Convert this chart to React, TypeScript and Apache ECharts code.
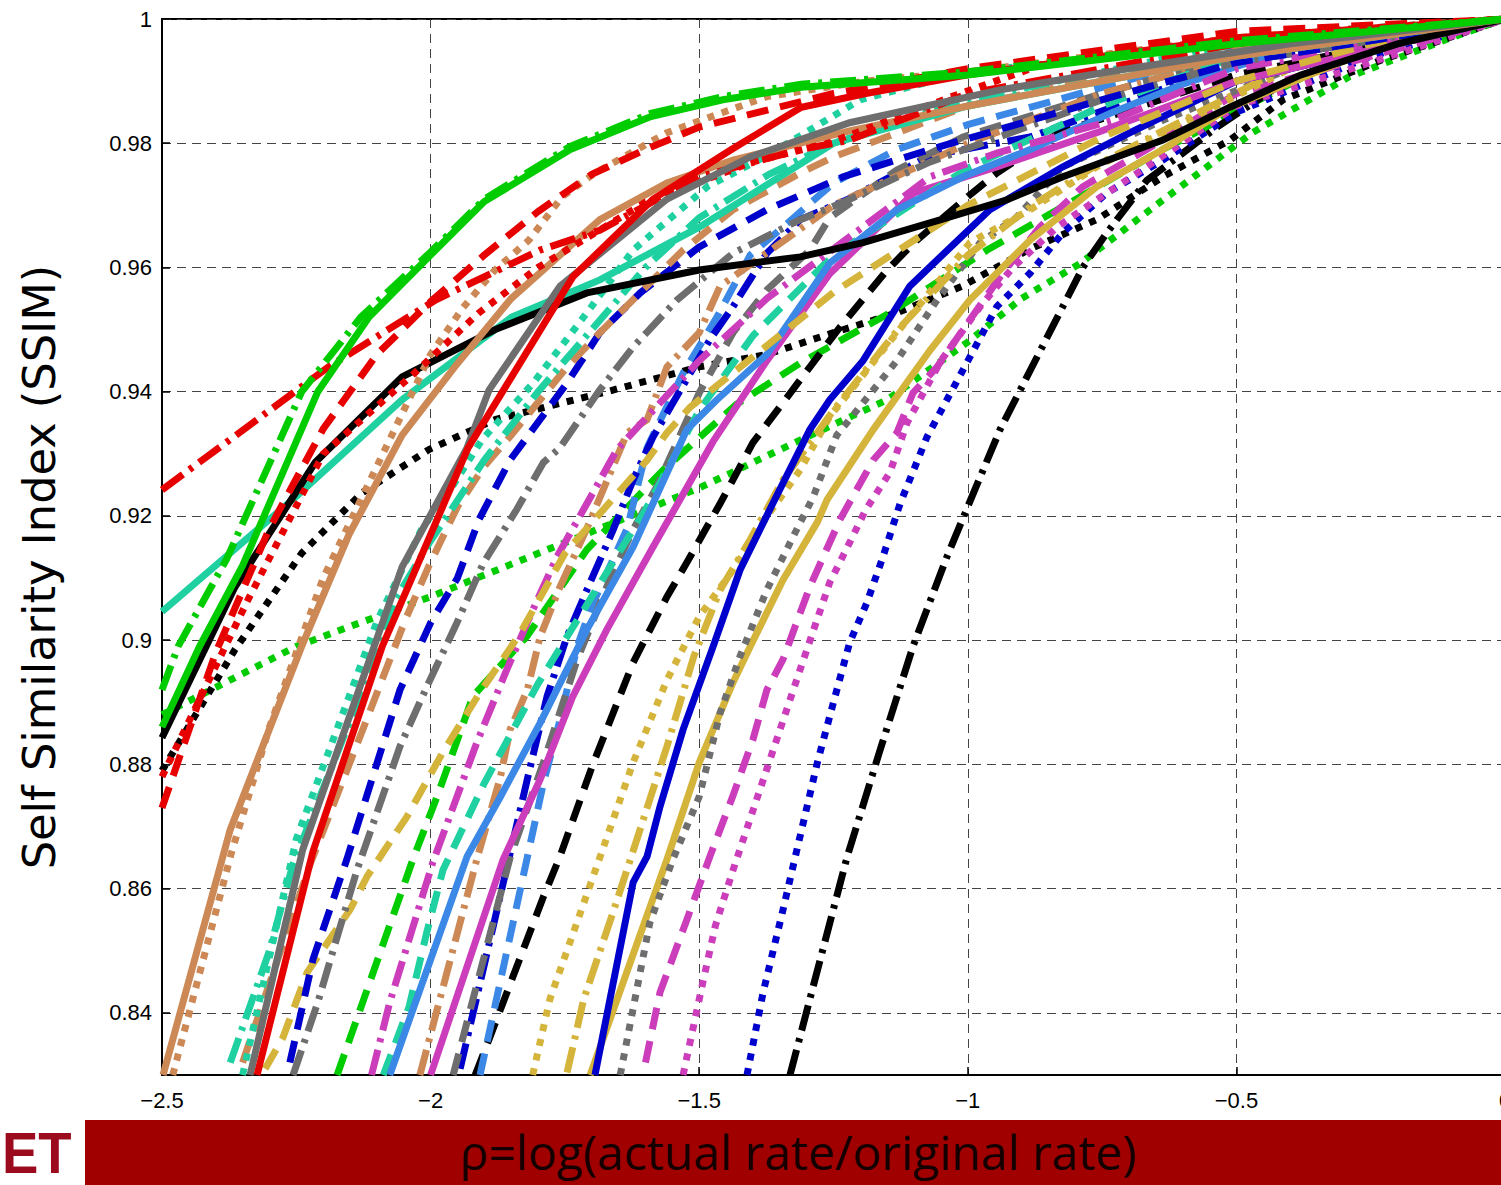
import React, { useEffect, useRef } from 'react';
import * as echarts from 'echarts';

// ---- data (x = rho, y = SSIM) ----
const greenSolid = [[-2.5,0.886],[-2.43,0.899],[-2.35,0.912],[-2.21,0.940],[-2.115,0.952],[-2.0,0.962],[-1.9,0.9706],[-1.74,0.979],[-1.59,0.9843],[-1.456,0.987],[-1.31,0.989],[-1.0,0.991],[-0.5,0.996],[0,1]];
const greenDashDot = [[-2.5,0.892],[-2.47,0.899],[-2.38,0.913],[-2.24,0.940],[-2.13,0.952],[-2.0,0.9625],[-1.9,0.971],[-1.74,0.9795],[-1.59,0.9848],[-1.456,0.9875],[-1.31,0.9895],[-1.0,0.9915],[-0.5,0.9965],[0,1]];
const greenDotted = [[-2.5,0.888],[-2.25,0.899],[-2.0,0.907],[-1.75,0.9157],[-1.5,0.9245],[-1.3,0.9327],[-1.15,0.9387],[-1.0,0.948],[-0.9,0.955],[-0.79,0.9607],[-0.65,0.970],[-0.47,0.9817],[-0.29,0.9907],[-0.1,0.997],[0,1]];
const greenDashed = [[-2.174,0.83],[-2.033,0.8647],[-1.988,0.8748],[-1.921,0.891],[-1.821,0.9006],[-1.709,0.9146],[-1.567,0.9274],[-1.43,0.938],[-1.312,0.9446],[-1.145,0.9527],[-0.964,0.9628],[-0.637,0.979],[-0.3,0.994],[0,1]];

const redSolid = [[-2.323,0.83],[-2.219,0.866],[-2.09,0.899],[-1.93,0.931],[-1.735,0.9585],[-1.586,0.971],[-1.44,0.979],[-1.31,0.9858],[-1.19,0.988],[-1.0,0.991],[-0.5,0.997],[0,1]];
const redDashed = [[-2.5,0.873],[-2.4,0.898],[-2.3,0.918],[-2.2,0.934],[-2.1,0.946],[-2.0,0.9545],[-1.9,0.962],[-1.8,0.969],[-1.7,0.975],[-1.6,0.979],[-1.5,0.9826],[-1.25,0.988],[-1.0,0.992],[-0.5,0.998],[0,1]];
const redDotted = [[-2.5,0.878],[-2.34,0.9065],[-2.2,0.930],[-2.03,0.943],[-1.91,0.9527],[-1.8,0.960],[-1.6,0.9705],[-1.4,0.977],[-1.26,0.980],[-1.03,0.9875],[-0.85,0.993],[-0.66,0.9945],[-0.35,0.998],[0,1]];
const redDashDot = [[-2.5,0.9242],[-2.19,0.944],[-1.99,0.9548],[-1.796,0.9628],[-1.685,0.966],[-1.5,0.9746],[-1.31,0.979],[-1.22,0.9805],[-1.0,0.988],[-0.5,0.996],[0,1]];

const blackSolid = [[-2.5,0.8843],[-2.364,0.9086],[-2.215,0.9286],[-2.053,0.9424],[-1.88,0.950],[-1.709,0.9559],[-1.5,0.9596],[-1.312,0.9617],[-1.195,0.964],[-1.05,0.9677],[-0.927,0.9709],[-0.823,0.9746],[-0.637,0.9805],[-0.512,0.9858],[-0.38,0.991],[-0.2,0.996],[0,1]];
const blackDotted = [[-2.5,0.879],[-2.364,0.8985],[-2.24,0.914],[-2.128,0.9237],[-2.003,0.9307],[-1.88,0.9355],[-1.672,0.940],[-1.5,0.944],[-1.374,0.946],[-1.25,0.9495],[-1.132,0.9527],[-1.01,0.957],[-0.884,0.963],[-0.76,0.9677],[-0.637,0.9746],[-0.512,0.9805],[-0.413,0.987],[-0.23,0.9934],[0,1]];
const blackDashed = [[-1.917,0.83],[-1.89,0.836],[-1.79,0.8587],[-1.76,0.865],[-1.698,0.880],[-1.623,0.8964],[-1.56,0.907],[-1.523,0.9125],[-1.461,0.922],[-1.4,0.9318],[-1.238,0.9504],[-1.15,0.9596],[-1.1,0.964],[-1.0,0.9714],[-0.946,0.9752],[-0.897,0.978],[-0.83,0.9817],[-0.5,0.991],[0,1]];
const blackDashDot = [[-1.331,0.83],[-1.225,0.865],[-1.163,0.8824],[-1.102,0.899],[-1.039,0.9134],[-1.0,0.9215],[-0.94,0.9339],[-0.786,0.960],[-0.741,0.9656],[-0.667,0.974],[-0.536,0.9826],[-0.413,0.9897],[-0.2,0.997],[0,1]];

const tealSolid = [[-2.5,0.9046],[-2.252,0.923],[-2.053,0.9387],[-1.849,0.952],[-1.685,0.958],[-1.5,0.9665],[-1.25,0.980],[-1.0,0.986],[-0.5,0.994],[0,1]];
const tealDotted = [[-2.35,0.83],[-2.25,0.868],[-2.1,0.903],[-2.016,0.918],[-1.96,0.9247],[-1.904,0.9323],[-1.809,0.9414],[-1.709,0.9527],[-1.623,0.9628],[-1.485,0.973],[-1.374,0.978],[-1.2,0.987],[-1.0,0.9915],[-0.66,0.9945],[-0.35,0.998],[0,1]];
const tealDashDot = [[-2.373,0.832],[-2.3,0.85],[-2.256,0.864],[-2.15,0.887],[-2.066,0.9065],[-2.0,0.916],[-1.9,0.929],[-1.8,0.940],[-1.7,0.950],[-1.6,0.960],[-1.5,0.968],[-1.37,0.975],[-1.25,0.980],[-1.0,0.987],[-0.5,0.996],[0,1]];
const tealDashed = [[-2.088,0.83],[-2.04,0.841],[-2.007,0.853],[-1.977,0.863],[-1.9,0.877],[-1.8,0.893],[-1.7,0.907],[-1.6,0.921],[-1.5,0.937],[-1.4,0.949],[-1.25,0.962],[-1.0,0.976],[-0.75,0.986],[-0.5,0.994],[0,1]];

const tanSolid = [[-2.498,0.83],[-2.373,0.8695],[-2.24,0.899],[-2.152,0.917],[-2.053,0.933],[-1.955,0.944],[-1.85,0.955],[-1.685,0.9677],[-1.56,0.9736],[-1.437,0.9773],[-1.22,0.982],[-1.0,0.986],[-0.75,0.990],[-0.5,0.994],[-0.25,0.997],[0,1]];
const tanDotted = [[-2.48,0.83],[-2.37,0.866],[-2.3,0.886],[-2.2,0.910],[-2.1,0.928],[-2.0,0.946],[-1.94,0.9535],[-1.88,0.9596],[-1.817,0.9644],[-1.755,0.9714],[-1.694,0.9752],[-1.56,0.9817],[-1.374,0.9875],[-1.19,0.990],[-1.0,0.9915],[-0.5,0.997],[0,1]];
const tanDashed = [[-2.35,0.832],[-2.224,0.864],[-2.12,0.887],[-2.047,0.9033],[-2.003,0.912],[-1.95,0.9215],[-1.9,0.928],[-1.85,0.933],[-1.746,0.944],[-1.685,0.9495],[-1.623,0.9548],[-1.53,0.9628],[-1.437,0.9693],[-1.312,0.9752],[-1.25,0.9778],[-1.0,0.986],[-0.5,0.995],[0,1]];
const tanDashDot = [[-2.02,0.83],[-1.914,0.8647],[-1.87,0.878],[-1.852,0.8856],[-1.82,0.892],[-1.796,0.9006],[-1.759,0.9086],[-1.709,0.918],[-1.634,0.9334],[-1.597,0.9355],[-1.56,0.944],[-1.5,0.9495],[-1.461,0.957],[-1.25,0.970],[-1.0,0.980],[-0.75,0.988],[-0.5,0.994],[0,1]];

const graySolid = [[-2.336,0.83],[-2.238,0.8663],[-2.053,0.9118],[-1.932,0.931],[-1.891,0.9403],[-1.759,0.957],[-1.56,0.971],[-1.405,0.9778],[-1.22,0.9833],[-0.94,0.9886],[-0.717,0.9918],[-0.4,0.996],[0,1]];
const grayDashDot = [[-2.256,0.83],[-2.21,0.8417],[-2.137,0.863],[-2.057,0.8829],[-2.007,0.8925],[-1.951,0.9028],[-1.902,0.9124],[-1.84,0.921],[-1.79,0.9286],[-1.759,0.931],[-1.685,0.9403],[-1.623,0.9472],[-1.541,0.9548],[-1.437,0.9623],[-1.312,0.9677],[-1.232,0.9705],[-1.07,0.977],[-0.75,0.987],[-0.5,0.993],[0,1]];
const grayDashed = [[-1.958,0.83],[-1.852,0.865],[-1.79,0.8803],[-1.727,0.8969],[-1.672,0.9086],[-1.623,0.9178],[-1.579,0.9247],[-1.5,0.9398],[-1.437,0.9495],[-1.374,0.9564],[-1.294,0.9628],[-1.257,0.968],[-1.132,0.9757],[-1.009,0.981],[-0.75,0.988],[-0.5,0.994],[0,1]];
const grayDotted = [[-1.647,0.83],[-1.592,0.8545],[-1.549,0.8647],[-1.5,0.8748],[-1.461,0.8883],[-1.424,0.8974],[-1.374,0.9081],[-1.325,0.9167],[-1.288,0.923],[-1.244,0.933],[-1.225,0.935],[-1.132,0.945],[-1.057,0.9548],[-0.977,0.964],[-0.91,0.968],[-0.823,0.9762],[-0.637,0.9837],[-0.4,0.992],[0,1]];

const blueDashed = [[-2.262,0.832],[-2.219,0.8486],[-2.156,0.8647],[-2.057,0.892],[-2.0,0.9028],[-1.95,0.910],[-1.91,0.9194],[-1.852,0.929],[-1.746,0.9414],[-1.685,0.9495],[-1.61,0.9559],[-1.5,0.9633],[-1.374,0.9693],[-1.232,0.9746],[-1.07,0.979],[-0.75,0.987],[-0.5,0.993],[0,1]];
const blueDashDot = [[-1.945,0.831],[-1.82,0.8776],[-1.783,0.891],[-1.746,0.9006],[-1.709,0.9081],[-1.66,0.9178],[-1.623,0.9258],[-1.586,0.9327],[-1.48,0.9484],[-1.437,0.9537],[-1.374,0.9623],[-1.312,0.9677],[-1.225,0.9709],[-1.07,0.978],[-0.884,0.981],[-0.5,0.993],[0,1]];
const blueSolid = [[-1.694,0.83],[-1.623,0.861],[-1.597,0.8652],[-1.573,0.8732],[-1.53,0.8856],[-1.474,0.899],[-1.424,0.9113],[-1.363,0.922],[-1.294,0.9339],[-1.257,0.9387],[-1.195,0.945],[-1.108,0.957],[-0.959,0.9693],[-0.823,0.9762],[-0.698,0.9817],[-0.5,0.990],[0,1]];
const blueDotted = [[-1.411,0.83],[-1.381,0.8433],[-1.344,0.8566],[-1.318,0.8663],[-1.28,0.8803],[-1.25,0.890],[-1.22,0.8996],[-1.188,0.906],[-1.158,0.9134],[-1.126,0.922],[-1.076,0.9327],[-0.996,0.9456],[-0.946,0.9537],[-0.884,0.9591],[-0.823,0.9656],[-0.741,0.972],[-0.637,0.9773],[-0.5,0.985],[-0.25,0.994],[0,1]];

const lightBlueSolid = [[-2.076,0.83],[-1.932,0.8652],[-1.87,0.8748],[-1.796,0.8867],[-1.709,0.9017],[-1.623,0.915],[-1.523,0.9339],[-1.467,0.9387],[-1.374,0.946],[-1.257,0.9607],[-1.132,0.9693],[-1.009,0.9746],[-0.884,0.979],[-0.73,0.985],[-0.6,0.9895],[-0.35,0.9966],[0,1]];
const lightBlueDashed = [[-1.908,0.83],[-1.79,0.877],[-1.759,0.8872],[-1.727,0.899],[-1.703,0.9049],[-1.634,0.918],[-1.597,0.931],[-1.53,0.943],[-1.467,0.952],[-1.405,0.962],[-1.344,0.9665],[-1.25,0.9736],[-1.132,0.979],[-1.0,0.983],[-0.75,0.989],[-0.5,0.995],[0,1]];

const magentaDashDot = [[-2.11,0.83],[-2.076,0.8417],[-1.996,0.8642],[-1.914,0.8835],[-1.858,0.8953],[-1.809,0.905],[-1.765,0.9134],[-1.709,0.922],[-1.653,0.9307],[-1.5,0.945],[-1.374,0.955],[-1.25,0.963],[-1.07,0.9746],[-0.946,0.9784],[-0.73,0.9837],[-0.5,0.992],[0,1]];
const magentaSolid = [[-2.0,0.83],[-1.865,0.8647],[-1.796,0.8776],[-1.735,0.891],[-1.672,0.9017],[-1.586,0.915],[-1.474,0.932],[-1.374,0.945],[-1.257,0.959],[-1.1,0.972],[-0.946,0.9762],[-0.76,0.9817],[-0.5,0.990],[0,1]];
const magentaDashed = [[-1.6,0.832],[-1.573,0.8433],[-1.523,0.855],[-1.48,0.8652],[-1.437,0.875],[-1.4,0.884],[-1.374,0.892],[-1.344,0.8969],[-1.294,0.9086],[-1.238,0.9194],[-1.176,0.929],[-1.132,0.9334],[-1.102,0.9398],[-1.057,0.944],[-0.996,0.9516],[-0.935,0.9591],[-0.866,0.9665],[-0.786,0.973],[-0.667,0.979],[-0.5,0.988],[0,1]];
const magentaDotted = [[-1.53,0.83],[-1.493,0.845],[-1.47,0.854],[-1.437,0.863],[-1.312,0.8953],[-1.257,0.9093],[-1.22,0.9157],[-1.19,0.921],[-1.145,0.927],[-1.113,0.935],[-1.05,0.945],[-0.977,0.9537],[-0.916,0.960],[-0.834,0.9665],[-0.76,0.9709],[-0.667,0.9762],[-0.5,0.986],[0,1]];

const goldDashed = [[-2.308,0.831],[-2.275,0.836],[-2.23,0.8465],[-2.15,0.8566],[-2.118,0.862],[-2.044,0.8716],[-1.977,0.882],[-1.908,0.8916],[-1.87,0.8964],[-1.834,0.901],[-1.75,0.914],[-1.597,0.929],[-1.56,0.9334],[-1.517,0.9375],[-1.25,0.956],[-1.0,0.970],[-0.75,0.981],[-0.5,0.990],[-0.25,0.996],[0,1]];
const goldDotted = [[-1.81,0.83],[-1.778,0.8422],[-1.685,0.865],[-1.623,0.8803],[-1.56,0.8936],[-1.5,0.9038],[-1.437,0.9113],[-1.374,0.9199],[-1.312,0.9274],[-1.257,0.936],[-1.132,0.9495],[-0.996,0.964],[-0.884,0.9693],[-0.76,0.9762],[-0.637,0.9817],[-0.4,0.992],[0,1]];
const goldDashDot = [[-1.746,0.8304],[-1.715,0.8422],[-1.665,0.855],[-1.63,0.8642],[-1.56,0.8829],[-1.51,0.8974],[-1.461,0.9081],[-1.405,0.9162],[-1.344,0.9258],[-1.25,0.937],[-1.13,0.950],[-1.0,0.962],[-0.88,0.970],[-0.76,0.9765],[-0.637,0.982],[-0.4,0.9925],[0,1]];
const goldSolid = [[-1.703,0.83],[-1.56,0.8647],[-1.5,0.8803],[-1.437,0.8932],[-1.405,0.899],[-1.344,0.9097],[-1.28,0.919],[-1.262,0.9226],[-1.176,0.9339],[-1.07,0.9467],[-0.996,0.9548],[-0.884,0.9644],[-0.76,0.973],[-0.637,0.979],[-0.512,0.9858],[-0.25,0.995],[0,1]];

const X_MIN = -2.5;
const X_MAX = 0;
const X_STEP = 0.5;
const Y_MIN = 0.83;
const Y_MAX = 1;
const Y_STEP = 0.02;

const X_TITLE = 'ρ=log(actual rate/original rate)';
const Y_TITLE = 'Self Similarity Index (SSIM)';
const BANNER_TEXT = 'ET';

// ---- styles ----
const C = {
  green: '#00cc00',
  red: '#e60000',
  black: '#000000',
  teal: '#1fd0a0',
  tan: '#cc8855',
  gray: '#6e6e6e',
  blue: '#0000cc',
  lightBlue: '#3b88e6',
  magenta: '#cc3dbb',
  gold: '#d4b43a',
};
const SOLID: any = 'solid';
const DASH = [22, 12];
const DOT = [7, 8];
const DASHDOT = [26, 8, 4, 8];

const SERIES: [string, number[][], string, any][] = [
  ['greenDotted', greenDotted, C.green, DOT],
  ['blackDotted', blackDotted, C.black, DOT],
  ['greenDashed', greenDashed, C.green, DASH],
  ['blackDashDot', blackDashDot, C.black, DASHDOT],
  ['blueDotted', blueDotted, C.blue, DOT],
  ['magentaDotted', magentaDotted, C.magenta, DOT],
  ['magentaDashed', magentaDashed, C.magenta, DASH],
  ['goldSolid', goldSolid, C.gold, SOLID],
  ['grayDotted', grayDotted, C.gray, DOT],
  ['goldDashDot', goldDashDot, C.gold, DASHDOT],
  ['goldDotted', goldDotted, C.gold, DOT],
  ['blueSolid', blueSolid, C.blue, SOLID],
  ['blackDashed', blackDashed, C.black, DASH],
  ['lightBlueDashed', lightBlueDashed, C.lightBlue, DASH],
  ['blueDashDot', blueDashDot, C.blue, DASHDOT],
  ['grayDashed', grayDashed, C.gray, DASH],
  ['magentaSolid', magentaSolid, C.magenta, SOLID],
  ['tanDashDot', tanDashDot, C.tan, DASHDOT],
  ['tealDashed', tealDashed, C.teal, DASH],
  ['lightBlueSolid', lightBlueSolid, C.lightBlue, SOLID],
  ['magentaDashDot', magentaDashDot, C.magenta, DASHDOT],
  ['goldDashed', goldDashed, C.gold, DASH],
  ['grayDashDot', grayDashDot, C.gray, DASHDOT],
  ['blueDashed', blueDashed, C.blue, DASH],
  ['tanDashed', tanDashed, C.tan, DASH],
  ['tealDashDot', tealDashDot, C.teal, DASHDOT],
  ['tealDotted', tealDotted, C.teal, DOT],
  ['tealSolid', tealSolid, C.teal, SOLID],
  ['blackSolid', blackSolid, C.black, SOLID],
  ['tanDotted', tanDotted, C.tan, DOT],
  ['tanSolid', tanSolid, C.tan, SOLID],
  ['redDotted', redDotted, C.red, DOT],
  ['redDashDot', redDashDot, C.red, DASHDOT],
  ['redDashed', redDashed, C.red, DASH],
  ['graySolid', graySolid, C.gray, SOLID],
  ['redSolid', redSolid, C.red, SOLID],
  ['greenDashDot', greenDashDot, C.green, DASHDOT],
  ['greenSolid', greenSolid, C.green, SOLID],
];

const W = 1501;
const H = 1185;

export default function App() {
  const ref = useRef<HTMLDivElement>(null);
  useEffect(() => {
    document.body.style.margin = '0';
    const chart = echarts.init(ref.current!, null, { renderer: 'svg' });
    const tickFont = { fontFamily: 'Liberation Sans, Arial, sans-serif', fontSize: 22, color: '#000' };
    chart.setOption({
      animation: false,
      backgroundColor: '#ffffff',
      grid: {
        left: 162, top: 19, width: 1343, height: 1056,
        outerBoundsMode: 'none', containLabel: false,
        show: true, borderColor: '#000', borderWidth: 2, backgroundColor: 'transparent',
      },
      xAxis: {
        type: 'value', min: X_MIN, max: X_MAX, interval: X_STEP,
        axisLine: { show: true, onZero: false, lineStyle: { color: '#000', width: 2 } },
        axisTick: { show: true, inside: true, length: 8, lineStyle: { color: '#000', width: 1.5 } },
        axisLabel: {
          ...tickFont, margin: 14, showMaxLabel: true, showMinLabel: true, hideOverlap: false,
          formatter: (v: number) => (v === 0 ? '0' : String(v).replace('-', '\u2212')),
        },
        splitLine: { show: true, lineStyle: { color: '#444', width: 1, type: [9, 6] } },
      },
      yAxis: {
        type: 'value', min: Y_MIN, max: Y_MAX, minInterval: Y_STEP, maxInterval: Y_STEP, splitNumber: 8,
        axisLine: { show: true, onZero: false, lineStyle: { color: '#000', width: 2 } },
        axisTick: { show: true, inside: true, length: 8, lineStyle: { color: '#000', width: 1.5 } },
        axisLabel: {
          ...tickFont, margin: 10, showMinLabel: false,
          formatter: (v: number) => {
            const k = v / Y_STEP;
            return Math.abs(k - Math.round(k)) < 1e-6 ? String(+v.toFixed(2)) : '';
          },
        },
        splitLine: { show: true, lineStyle: { color: '#444', width: 1, type: [9, 6] } },
      },
      graphic: [
        { type: 'rect', shape: { x: 85, y: 1120, width: 1430, height: 65 }, style: { fill: '#a00000' }, z: 10 },
        {
          type: 'text', x: 798, y: 1151, z: 11,
          style: {
            text: X_TITLE, fontSize: 48, fontFamily: '"Open Sans", Lato, sans-serif', fill: '#140000',
            align: 'center', verticalAlign: 'middle', textAlign: 'center', textVerticalAlign: 'middle',
          },
        },
        {
          type: 'text', x: 2, y: 1153, z: 11, scaleX: 0.94,
          style: {
            text: BANNER_TEXT, fontSize: 58, fontWeight: 'bold', fontFamily: 'Liberation Sans, Arial, sans-serif', fill: '#9c0a1e',
            align: 'left', verticalAlign: 'middle', textAlign: 'left', textVerticalAlign: 'middle',
          },
        },
        {
          type: 'text', x: 40, y: 567, rotation: Math.PI / 2, scaleX: 1.13, z: 11,
          style: {
            text: Y_TITLE, fontSize: 44, fontFamily: '"DejaVu Sans Condensed", "Liberation Sans Narrow", sans-serif', fill: '#000',
            align: 'center', verticalAlign: 'middle', textAlign: 'center', textVerticalAlign: 'middle',
          },
        },
      ],
      series: SERIES.map(([name, data, color, type]) => ({
        name, type: 'line', data, showSymbol: false, symbol: 'none', smooth: false, clip: true,
        lineStyle: { color, width: 7, type, cap: 'butt', join: 'miter' },
        emphasis: { disabled: true },
      })),
    });
    return () => chart.dispose();
  }, []);
  return <div ref={ref} style={{ position: 'fixed', left: 0, top: 0, width: W, height: H, background: '#fff' }} />;
}
